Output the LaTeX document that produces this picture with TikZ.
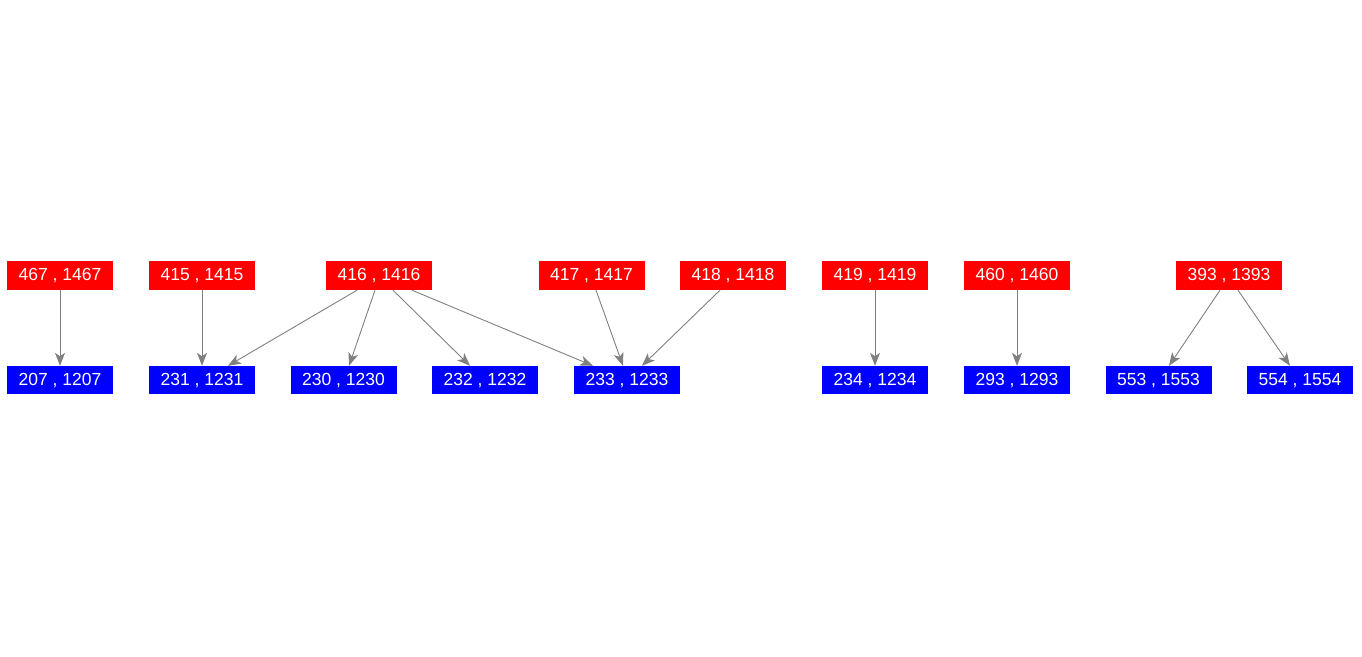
\documentclass[tikz,border=0pt]{standalone}
\usepackage{fontspec}
\setmainfont{Liberation Sans}
\usetikzlibrary{arrows.meta}
\definecolor{rb}{RGB}{255,0,0}
\definecolor{bb}{RGB}{0,0,255}
\definecolor{eg}{RGB}{128,128,128}
\tikzset{
  lbl/.style={text=white, inner sep=0pt, minimum width=106pt, text height=12pt, text depth=2pt, font=\fontsize{17.5}{17.5}\selectfont},
  src/.style={lbl, fill=rb, minimum height=29pt},
  dst/.style={lbl, fill=bb, minimum height=28pt},
  edge/.style={draw=eg, line width=0.9pt, -{Stealth[length=13pt,width=10pt,inset=3.5pt]}}
}
\begin{document}
\begin{tikzpicture}[x=1pt,y=-1pt]
\useasboundingbox (0,0) rectangle (1362,656);
% sources
\node[src] (n467) at (60,275.5) {467 , 1467};
\node[src] (n415) at (202,275.5) {415 , 1415};
\node[src] (n416) at (379,275.5) {416 , 1416};
\node[src] (n417) at (591.5,275.5) {417 , 1417};
\node[src] (n418) at (733,275.5) {418 , 1418};
\node[src] (n419) at (875,275.5) {419 , 1419};
\node[src] (n460) at (1017,275.5) {460 , 1460};
\node[src] (n393) at (1229,275.5) {393 , 1393};
% targets
\node[dst] (n207) at (60,380) {207 , 1207};
\node[dst] (n231) at (202,380) {231 , 1231};
\node[dst] (n230) at (343.5,380) {230 , 1230};
\node[dst] (n232) at (485,380) {232 , 1232};
\node[dst] (n233) at (627,380) {233 , 1233};
\node[dst] (n234) at (875,380) {234 , 1234};
\node[dst] (n293) at (1017,380) {293 , 1293};
\node[dst] (n553) at (1158.5,380) {553 , 1553};
\node[dst] (n554) at (1300,380) {554 , 1554};
% edges
\draw[edge] (n467.south) -- (n207.north);
\draw[edge] (n415.south) -- (n231.north);
\draw[edge] ([xshift=-22pt]n416.south) -- ([xshift=26pt]n231.north);
\draw[edge] ([xshift=-4pt]n416.south) -- ([xshift=5.5pt]n230.north);
\draw[edge] ([xshift=14pt]n416.south) -- ([xshift=-15pt]n232.north);
\draw[edge] ([xshift=33pt]n416.south) -- ([xshift=-34pt]n233.north);
\draw[edge] ([xshift=4.5pt]n417.south) -- ([xshift=-4pt]n233.north);
\draw[edge] ([xshift=-13pt]n418.south) -- ([xshift=15pt]n233.north);
\draw[edge] (n419.south) -- (n234.north);
\draw[edge] (n460.south) -- (n293.north);
\draw[edge] ([xshift=-9pt]n393.south) -- ([xshift=10.5pt]n553.north);
\draw[edge] ([xshift=9pt]n393.south) -- ([xshift=-10pt]n554.north);
\end{tikzpicture}
\end{document}
